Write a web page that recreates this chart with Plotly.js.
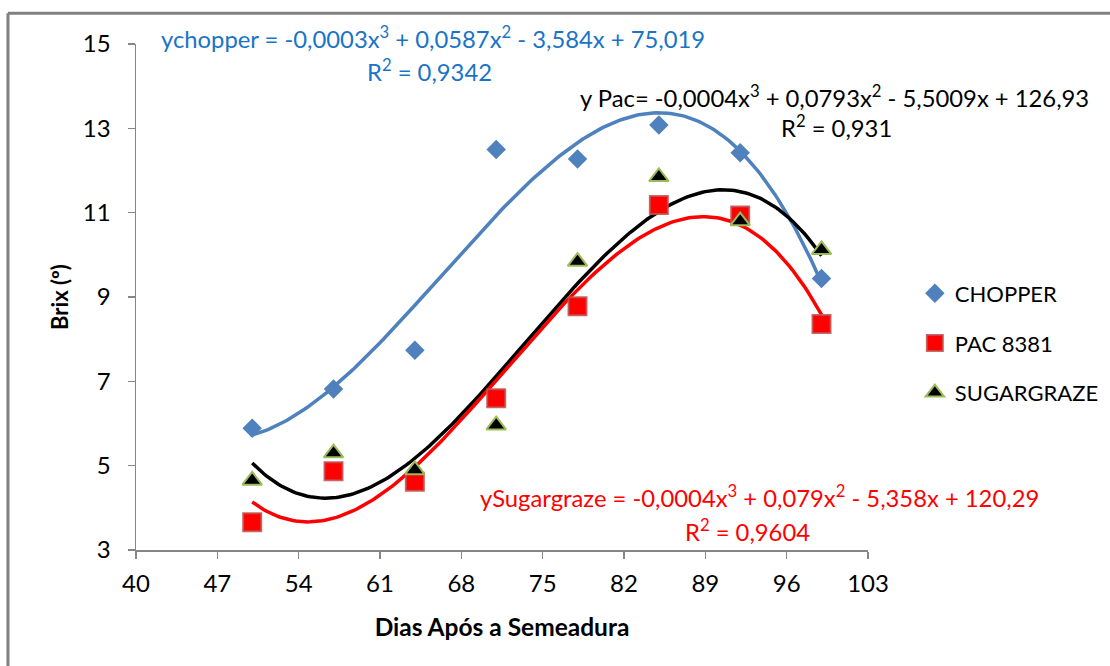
<!DOCTYPE html>
<html>
<head>
<meta charset="utf-8">
<script src="https://cdn.plot.ly/plotly-3.0.1.min.js"></script>
<style>html,body{margin:0;padding:0;background:#fff;}#chart{width:1110px;height:666px;}</style>
</head>
<body>
<div id="chart"></div>
<script>
// ---- data ----
const dias = [50, 57, 64, 71, 78, 85, 92, 99];
const chopper = [5.89, 6.82, 7.74, 12.50, 12.27, 13.08, 12.42, 9.44];
const pac8381 = [3.66, 4.87, 4.62, 6.60, 8.78, 11.18, 10.93, 8.36];
const sugargraze = [4.65, 5.30, 4.90, 5.96, 9.84, 11.85, 10.80, 10.12];
const seriesNames = ["CHOPPER", "PAC 8381", "SUGARGRAZE"];
const xTicks = [40, 47, 54, 61, 68, 75, 82, 89, 96, 103];
const yTicks = [3, 5, 7, 9, 11, 13, 15];
const eqChopper = ["ychopper = -0,0003x<sup>3</sup> + 0,0587x<sup>2</sup> - 3,584x + 75,019", "R<sup>2</sup> = 0,9342"];
const eqPac = ["y Pac= -0,0004x<sup>3</sup> + 0,0793x<sup>2</sup> - 5,5009x + 126,93", "R<sup>2</sup> = 0,931"];
const eqSugar = ["ySugargraze = -0,0004x<sup>3</sup> + 0,079x<sup>2</sup> - 5,358x + 120,29", "R<sup>2</sup> = 0,9604"];

// ---- least-squares cubic trend (as Excel's polynomial trendline) ----
function cubicFit(xs, ys) {
  const m = xs.reduce((a, b) => a + b, 0) / xs.length;
  const n = 4;
  const A = Array.from({length: n}, () => new Array(n + 1).fill(0));
  xs.forEach((x0, k) => {
    const t = x0 - m;
    const p = [1, t, t * t, t * t * t];
    for (let i = 0; i < n; i++) {
      for (let j = 0; j < n; j++) A[i][j] += p[i] * p[j];
      A[i][n] += p[i] * ys[k];
    }
  });
  for (let i = 0; i < n; i++) {
    let piv = i;
    for (let r = i + 1; r < n; r++) if (Math.abs(A[r][i]) > Math.abs(A[piv][i])) piv = r;
    [A[i], A[piv]] = [A[piv], A[i]];
    for (let r = 0; r < n; r++) {
      if (r === i) continue;
      const f = A[r][i] / A[i][i];
      for (let c = i; c <= n; c++) A[r][c] -= f * A[i][c];
    }
  }
  const c = A.map((row, i) => row[n] / row[i]);
  return x => { const t = x - m; return c[0] + c[1] * t + c[2] * t * t + c[3] * t * t * t; };
}
function trend(xs, ys) {
  const f = cubicFit(xs, ys);
  const lo = Math.min(...xs), hi = Math.max(...xs);
  const tx = [], ty = [];
  for (let i = 0; i <= 196; i++) { const x = lo + (hi - lo) * i / 196; tx.push(x); ty.push(f(x)); }
  return {tx, ty};
}
const tC = trend(dias, chopper), tP = trend(dias, pac8381), tS = trend(dias, sugargraze);

const FONT = "Lato, 'Open Sans', sans-serif";
const traces = [
  {x: tC.tx, y: tC.ty, mode: 'lines', line: {color: '#4F81BD', width: 3.5}, showlegend: false, hoverinfo: 'skip'},
  {x: tS.tx, y: tS.ty, mode: 'lines', line: {color: '#000000', width: 3.5}, showlegend: false, hoverinfo: 'skip'},
  {x: tP.tx, y: tP.ty, mode: 'lines', line: {color: '#FF0000', width: 3.5}, showlegend: false, hoverinfo: 'skip'},
  {x: dias, y: chopper, name: seriesNames[0], legendgroup: 'a', mode: 'markers',
   marker: {symbol: 'diamond', size: 15, color: '#4F81BD'}},
  {x: dias, y: pac8381, name: seriesNames[1], legendgroup: 'b', mode: 'markers',
   marker: {symbol: 'square', size: 18, color: '#FF0000', line: {color: 'rgba(192,80,77,0.85)', width: 2}}},
  {x: dias, y: sugargraze, name: seriesNames[2], legendgroup: 'c', mode: 'markers',
   marker: {symbol: 'triangle-up', size: 17, color: '#000000', line: {color: '#9BBB59', width: 2}}}
];

function ann(text, x, y, color) {
  return {text, x, y, xref: 'paper', yref: 'paper', showarrow: false, xanchor: 'center', yanchor: 'middle',
          font: {family: FONT, size: 23.8, color}};
}
const annotations = [
  ann(eqChopper[0], 0.4057, 1.0119, '#1874C6'),
  ann(eqChopper[1], 0.4016, 0.9486, '#1874C6'),
  ann(eqPac[0], 0.9549, 0.8972, '#000000'),
  ann(eqPac[1], 0.9563, 0.836, '#000000'),
  ann(eqSugar[0], 0.8518, 0.1067, '#FF0000'),
  ann(eqSugar[1], 0.836, 0.0395, '#FF0000')
];

const layout = {
  width: 1110, height: 666,
  margin: {l: 136, r: 242, t: 44, b: 116, autoexpand: false},
  paper_bgcolor: '#ffffff', plot_bgcolor: '#ffffff',
  font: {family: FONT, size: 22, color: '#000'},
  xaxis: {
    range: [40, 103], tickvals: xTicks, ticktext: xTicks.map(String),
    showgrid: false, zeroline: false, showline: true, linecolor: '#868686', linewidth: 1.5,
    ticks: 'outside', ticklen: 7, tickcolor: '#868686', tickwidth: 1.5, ticklabelstandoff: 5,
    tickfont: {family: FONT, size: 24, color: '#000'},
    title: {text: 'Dias Após a Semeadura', font: {family: FONT, size: 24.5, color: '#000', weight: 'bold'}, standoff: 22}
  },
  yaxis: {
    range: [3, 15], tickvals: yTicks, ticktext: yTicks.map(String),
    showgrid: false, zeroline: false, showline: true, linecolor: '#868686', linewidth: 1.5,
    ticks: 'outside', ticklen: 7, tickcolor: '#868686', tickwidth: 1.5, ticklabelstandoff: 12,
    tickfont: {family: FONT, size: 24, color: '#000'},
    title: {text: 'Brix (º)', font: {family: FONT, size: 22, color: '#000', weight: 'bold'}, standoff: 8}
  },
  legend: {x: 1.064, xanchor: 'left', y: 0.409, yanchor: 'middle', tracegroupgap: 18,
           font: {family: FONT, size: 22, color: '#000'}, bgcolor: 'rgba(0,0,0,0)', itemwidth: 30},
  annotations,
  shapes: [
    {type: 'line', xref: 'paper', yref: 'paper', x0: -0.1749, x1: -0.1749, y0: 1.061, y1: -0.3,
     line: {color: '#808080', width: 3}},
    {type: 'line', xref: 'paper', yref: 'paper', x0: -0.1749, x1: 1.4, y0: 1.061, y1: 1.061,
     line: {color: '#808080', width: 3}}
  ]
};
Plotly.newPlot('chart', traces, layout, {displayModeBar: false, staticPlot: true});
</script>
</body>
</html>
